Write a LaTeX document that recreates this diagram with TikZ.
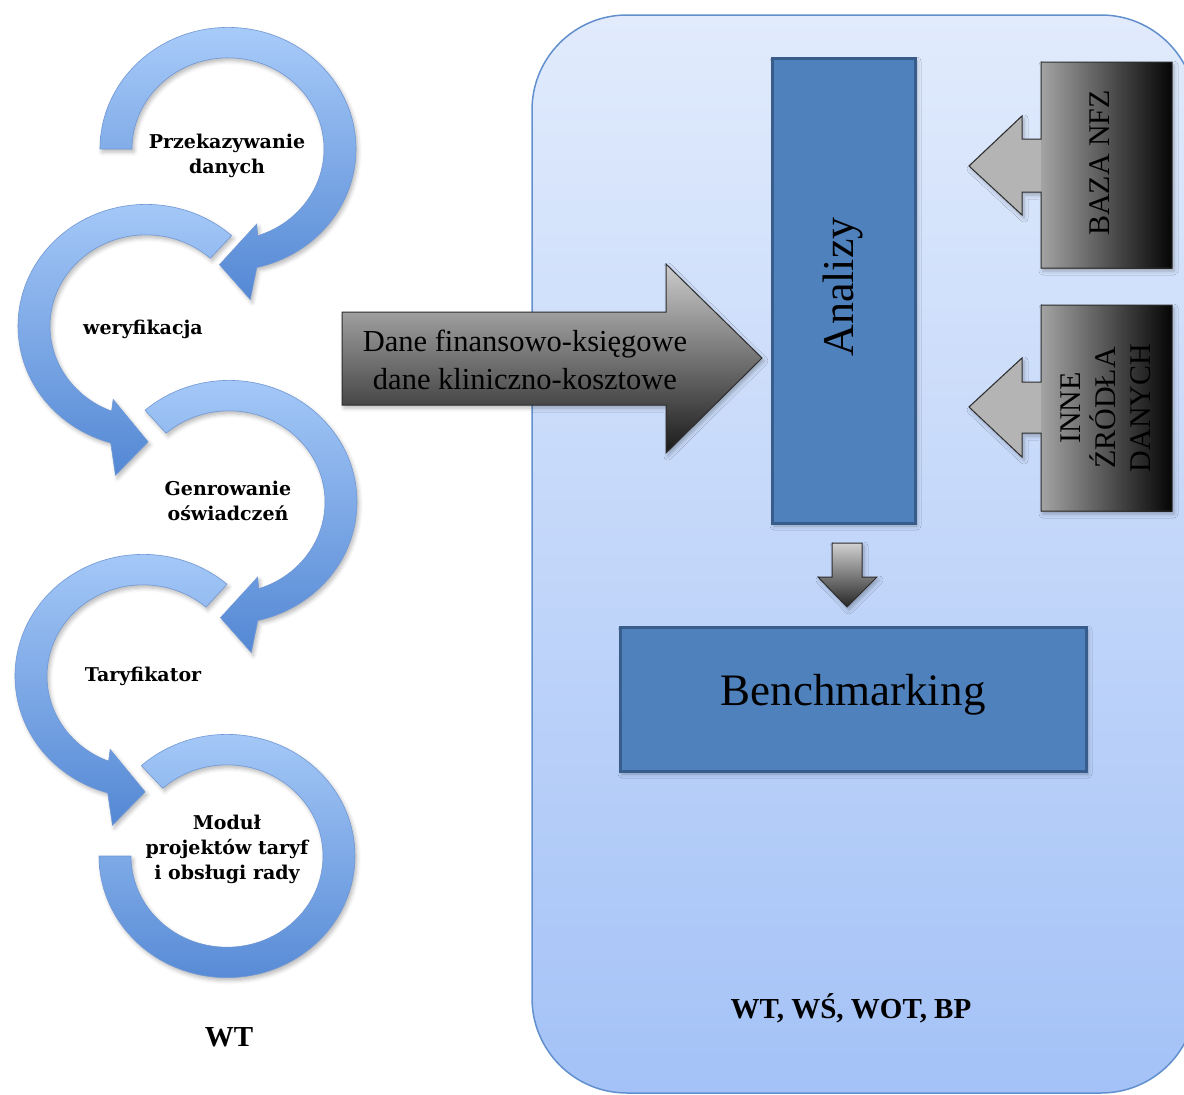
\documentclass[tikz,border=0pt]{standalone}
\usepackage{fontspec}
\setmainfont{Liberation Serif}
\newfontfamily\labelfont{DejaVu Serif}
\usetikzlibrary{calc,shadows.blur}

\definecolor{panelTop}{RGB}{225,235,252}
\definecolor{panelBot}{RGB}{164,194,247}
\definecolor{panelLine}{RGB}{98,144,206}
\definecolor{boxFill}{RGB}{79,129,189}
\definecolor{boxLine}{RGB}{56,93,138}
\definecolor{ringTop}{RGB}{168,203,249}
\definecolor{ringBot}{RGB}{84,136,212}
\definecolor{ringLine}{RGB}{112,152,214}
\definecolor{greyLine}{RGB}{45,45,45}
\definecolor{headGrey}{RGB}{180,180,180}

\tikzset{
  softshadow/.style={blur shadow={shadow xshift=2pt, shadow yshift=-3pt,
      shadow blur radius=4pt, shadow opacity=28}},
  bluebox/.style={draw=boxLine, line width=3pt, fill=boxFill, softshadow},
  ring/.style={top color=ringTop, bottom color=ringBot, draw=ringLine,
      line width=0.6pt, softshadow},
  steplabel/.style={font=\labelfont\bfseries\fontsize{19}{25}\selectfont,
      align=center, text=black},
  greyarrow/.style={draw=greyLine, line width=1pt},
}

% ring arrow: #1 centre, #2 start angle, #3 angle where the head begins,
% #4 turning sense (1 = growing angle, -1 = falling angle)
\newcommand\ringarrow[4]{%
  \pgfmathsetmacro\outEnd{#3+2*(#4)}%
  \pgfmathsetmacro\inEnd{#3-3*(#4)}%
  \pgfmathsetmacro\outBarb{#3+7*(#4)}%
  \pgfmathsetmacro\inBarb{#3-5*(#4)}%
  \pgfmathsetmacro\tipAng{#3+19*(#4)}%
  \begin{scope}[shift={#1}, yscale=0.95]
    \path[ring] (#2:128) arc[start angle=#2, end angle=\outEnd, radius=128]
      -- (\outBarb:160) -- (\tipAng:122) -- (\inBarb:84)
      -- (\inEnd:96) arc[start angle=\inEnd, end angle=#2, radius=96] -- cycle;
  \end{scope}}

\begin{document}
\begin{tikzpicture}[x=1pt,y=-1pt]
\useasboundingbox (0,0) rectangle (1184,1095);
\clip (0,0) rectangle (1184,1095);

% panel on the right
\path[draw=panelLine, line width=1.5pt, top color=panelTop, bottom color=panelBot,
      rounded corners=95pt] (532,15) rectangle (1196,1093);

% cycle of ring arrows
\begin{scope}[shift={(227,856)}, yscale=0.95]
  \path[ring] (228:128) arc[start angle=228, end angle=540, radius=128]
    -- (540:96) arc[start angle=540, end angle=228, radius=96] -- cycle;
\end{scope}
\ringarrow{(143,676)}{311}{108}{-1}
\ringarrow{(229,502)}{229}{435}{1}
\ringarrow{(146,326)}{312}{108}{-1}
\ringarrow{(228,149)}{180}{435}{1}

\node[steplabel] (przek) at (227,156) {Przekazywanie\\danych};
\node[steplabel] (wer) at (143,329) {weryfikacja};
\node[steplabel] (gen) at (228,501) {Genrowanie\\oświadczeń};
\node[steplabel] (tar) at (143,676) {Taryfikator};
\node[steplabel] (mod) at (227,849) {Moduł\\projektów taryf\\i obsługi rady};

\node[font=\bfseries\fontsize{29}{34}\selectfont] (wt) at (229,1037) {WT};

% data arrow into the panel
\path[greyarrow, top color=black!20, bottom color=black!90, softshadow]
  (342,312) -- (666,312) -- (666,264) -- (762,358) -- (666,453) -- (666,405)
  -- (342,405) -- cycle;
\node[font=\fontsize{30.5}{38}\selectfont, align=center] (dane) at (525,360)
  {Dane finansowo-księgowe\\dane kliniczno-kosztowe};

% analyses
\path[bluebox] (772,58) rectangle (915,523);
\node[rotate=90, font=\fontsize{44}{50}\selectfont] (analizy) at (843,287) {Analizy};

% source arrows: shadowed outline first, then the fills, then the outline on top
\path[softshadow, fill=headGrey] (1041,62) -- (1172,62) -- (1172,268) -- (1041,268)
  -- (1041,192) -- (1022,192) -- (1022,215) -- (969,166) -- (1022,116)
  -- (1022,139) -- (1041,139) -- cycle;
\shade[left color=black!36, right color=black!98] (1041,62) rectangle (1172,268);
\path[greyarrow] (1041,62) -- (1172,62) -- (1172,268) -- (1041,268)
  -- (1041,192) -- (1022,192) -- (1022,215) -- (969,166) -- (1022,116)
  -- (1022,139) -- (1041,139) -- cycle;
\node[rotate=90, font=\fontsize{30}{35}\selectfont] (nfz) at (1100,163) {BAZA NFZ};

\path[softshadow, fill=headGrey] (1041,305) -- (1172,305) -- (1172,511) -- (1041,511)
  -- (1041,433) -- (1022,433) -- (1022,457) -- (969,407) -- (1022,358)
  -- (1022,382) -- (1041,382) -- cycle;
\shade[left color=black!36, right color=black!98] (1041,305) rectangle (1172,511);
\path[greyarrow] (1041,305) -- (1172,305) -- (1172,511) -- (1041,511)
  -- (1041,433) -- (1022,433) -- (1022,457) -- (969,407) -- (1022,358)
  -- (1022,382) -- (1041,382) -- cycle;
\node[rotate=90, font=\fontsize{30}{35}\selectfont, align=center] (inne) at (1106,408)
  {INNE\\ŹRÓDŁA\\DANYCH};

% arrow down to benchmarking
\path[greyarrow, top color=black!18, bottom color=black!85, softshadow]
  (832,543) -- (862,543) -- (862,577) -- (877,577) -- (847,607) -- (818,577)
  -- (832,577) -- cycle;

% benchmarking
\path[bluebox] (620,627) rectangle (1086,771);
\node[font=\fontsize{45}{50}\selectfont] (bench) at (853,695) {Benchmarking};

\node[font=\bfseries\fontsize{29}{34}\selectfont] (units) at (851,1008) {WT, WŚ, WOT, BP};
\end{tikzpicture}
\end{document}
